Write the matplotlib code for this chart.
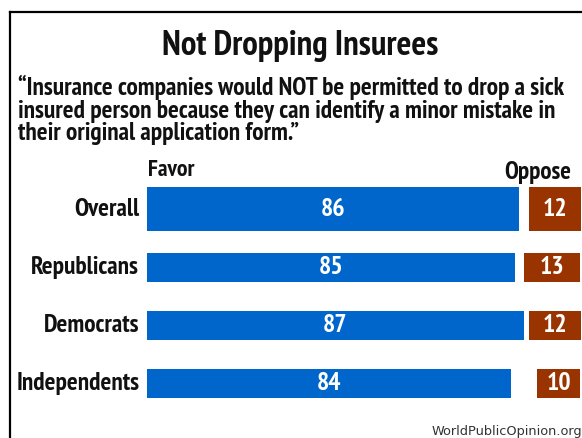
import matplotlib.pyplot as plt
from matplotlib import font_manager
from matplotlib.lines import Line2D

# data
groups = ['Overall', 'Republicans', 'Democrats', 'Independents']
favor = [86, 85, 87, 84]
oppose = [12, 13, 12, 10]

title = 'Not Dropping Insurees'
question = ('\u201cInsurance companies would NOT be permitted to drop a sick\n'
            'insured person because they can identify a minor mistake in\n'
            'their original application form.\u201d')
source = 'WorldPublicOpinion.org'

blue = '#0066CC'
brown = '#993300'

# narrow humanist sans if there is one, else DejaVu condensed
installed = {f.name for f in font_manager.fontManager.ttflist}
if 'PT Sans Narrow' in installed:
    face = dict(family=['PT Sans Narrow', 'DejaVu Sans'])
else:
    face = dict(family=['DejaVu Sans'], fontstretch='condensed')

W, H = 582, 438
fig = plt.figure(figsize=(W / 100, H / 100), dpi=100)

# frame lines (left and top only; the rest is cropped off)
fig.add_artist(Line2D([10 / W, 10 / W], [0, 1 - 11.5 / H], transform=fig.transFigure, color='black', lw=1.6))
fig.add_artist(Line2D([10 / W, 1], [1 - 11.5 / H, 1 - 11.5 / H], transform=fig.transFigure, color='black', lw=1.6))

fig.text(300 / W, 1 - 46 / H, title, ha='center', va='center', fontsize=25, fontweight='bold',
         color='#111111', **face)
fig.text(18 / W, 1 - 110 / H, question, ha='left', va='center', fontsize=18.3, fontweight='bold',
         linespacing=0.98, color='#111111', **face)

# axes: x in percent, left edge where the favor bars start
ax = fig.add_axes([147 / W, 1 - 410 / H, (580.5 - 147) / W, 250 / H])
ax.set_xlim(0, 100.1)
ax.set_ylim((410 - 209) / 58.2, (160 - 209) / 58.2)
ax.axis('off')

ypos = list(range(len(groups)))
heights = [0.76] + [0.5] * (len(groups) - 1)
ax.barh(ypos, favor, height=heights, color=blue)
ax.barh(ypos, oppose, height=heights, color=brown, left=[100.1 - v for v in oppose])

for y, g, f, o in zip(ypos, groups, favor, oppose):
    ax.text(-1.8, y, g, ha='right', va='center', fontsize=18.3, fontweight='bold', color='#111111', **face)
    ax.text(f / 2, y, str(f), ha='center', va='center', fontsize=18.5, fontweight='bold', color='white', **face)
    ax.text(100.1 - o / 2, y, str(o), ha='center', va='center', fontsize=18.5, fontweight='bold',
            color='white', **face)

ax.text(0.2, -0.67, 'Favor', ha='left', va='center', fontsize=17, fontweight='bold', color='#111111', **face)
ax.text(97.9, -0.63, 'Oppose', ha='right', va='center', fontsize=18, fontweight='bold', color='#111111', **face)

fig.text(432 / W, 1 - 431 / H, source, ha='left', va='center', fontsize=9.3, family='DejaVu Sans',
         color='#333333')

fig.savefig('out.png', dpi=100)
